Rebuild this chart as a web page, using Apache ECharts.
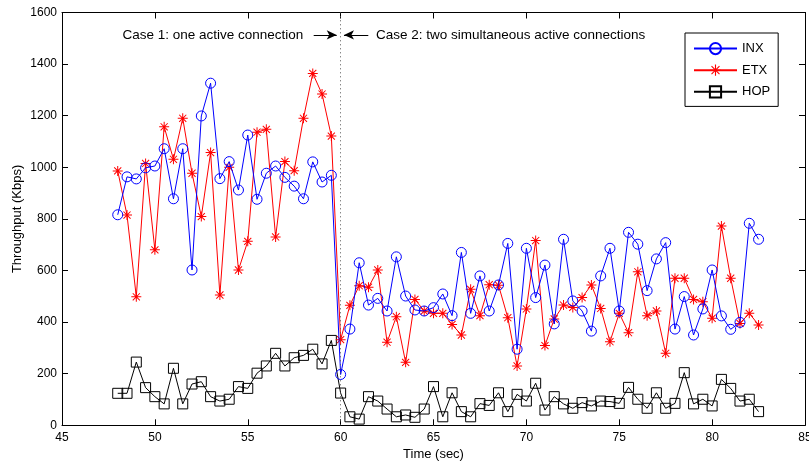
<!DOCTYPE html>
<html>
<head>
<meta charset="utf-8">
<script src="https://cdn.jsdelivr.net/npm/echarts@6/dist/echarts.min.js"></script>
<style>
html,body{margin:0;padding:0;background:#fff;}
#chart{width:809px;height:462px;}
</style>
</head>
<body>
<div id="chart"></div>
<script>
// ---- data ----
const times = [48,48.5,49,49.5,50,50.5,51,51.5,52,52.5,53,53.5,54,54.5,55,55.5,56,56.5,57,57.5,58,58.5,59,59.5,
  60,60.5,61,61.5,62,62.5,63,63.5,64,64.5,65,65.5,66,66.5,67,67.5,68,68.5,69,69.5,70,70.5,71,71.5,72,72.5,
  73,73.5,74,74.5,75,75.5,76,76.5,77,77.5,78,78.5,79,79.5,80,80.5,81,81.5,82,82.5];
const inx = [816,963,955,998,1005,1072,878,1072,602,1199,1326,956,1022,912,1125,876,977,1005,961,927,878,1021,943,969,
  197,373,630,466,492,443,653,501,447,443,456,509,425,670,434,579,443,544,705,295,686,495,621,393,721,482,
  443,365,579,686,443,748,702,522,645,708,373,499,350,451,602,424,372,399,783,721];
const etx = [986,815,498,1015,680,1157,1031,1190,977,809,1057,505,1000,602,713,1136,1147,730,1022,987,1190,1364,1284,1121,
  332,465,541,535,602,322,421,244,488,443,434,434,391,350,527,425,545,543,417,230,451,716,309,412,466,457,
  495,544,453,324,434,359,595,425,443,279,570,570,488,479,415,772,570,395,434,389];
const hop = [124,124,245,146,111,83,221,83,160,169,111,94,101,150,143,202,230,279,230,262,271,295,238,329,
  125,33,24,111,94,63,33,40,31,63,150,33,126,53,33,84,77,126,53,120,94,163,59,111,83,66,
  88,75,94,92,85,147,101,66,126,66,85,204,83,101,75,178,143,94,101,53];
const seriesNames = ['INX','ETX','HOP'];
const xTicks = {min:45, max:85, interval:5};
const yTicks = {min:0, max:1600, interval:200};
const splitTime = 60;
const case1Text = 'Case 1: one active connection';
const case2Text = 'Case 2: two simultaneous active connections';
const annotY = 1513;

const pair = arr => times.map((t,i)=>[t, arr[i]]);
const FONT = 'Liberation Sans, Arial, Helvetica, sans-serif';
const starPath = 'path://M-0.5,-5 L0.5,-5 L0.5,5 L-0.5,5 Z M-5,-0.5 L5,-0.5 L5,0.5 L-5,0.5 Z M-3.2,-3.9 L3.9,3.2 L3.2,3.9 L-3.9,-3.2 Z M3.2,-3.9 L3.9,-3.2 L-3.2,3.9 L-3.9,3.2 Z';

const axisCommon = {
  type:'value',
  axisLine:{show:true, onZero:false, lineStyle:{color:'#000', width:1}},
  axisTick:{show:true, inside:true, length:6, lineStyle:{color:'#000'}},
  splitLine:{show:false},
  axisLabel:{color:'#000', fontSize:12, fontFamily:FONT, formatter:v => String(v)}
};

const chart = echarts.init(document.getElementById('chart'), null, {renderer:'canvas'});
chart.setOption({
  animation:false,
  backgroundColor:'#fff',
  textStyle:{fontFamily:FONT},
  grid:{left:62, right:4, top:12.5, bottom:36.7, containLabel:false, outerBoundsMode:'none'},
  xAxis:[
    Object.assign({}, axisCommon, {position:'bottom', min:xTicks.min, max:xTicks.max, interval:xTicks.interval,
      axisLabel:Object.assign({}, axisCommon.axisLabel, {margin:6}),
      name:'Time (sec)', nameLocation:'middle', nameGap:23, nameMoveOverlap:false,
      nameTextStyle:{color:'#000', fontSize:13, fontFamily:FONT}}),
    Object.assign({}, axisCommon, {position:'top', min:xTicks.min, max:xTicks.max, interval:xTicks.interval,
      axisLabel:{show:false}})
  ],
  yAxis:[
    Object.assign({}, axisCommon, {position:'left', min:yTicks.min, max:yTicks.max, interval:yTicks.interval,
      axisLabel:Object.assign({}, axisCommon.axisLabel, {margin:5}),
      name:'Throughput (Kbps)', nameLocation:'middle', nameGap:38, nameRotate:90, nameMoveOverlap:false,
      nameTextStyle:{color:'#000', fontSize:13, fontFamily:FONT}}),
    Object.assign({}, axisCommon, {position:'right', min:yTicks.min, max:yTicks.max, interval:yTicks.interval,
      axisLabel:{show:false}})
  ],
  legend:{
    orient:'vertical', left:685, top:33,
    padding:[9,8,8,8], itemGap:8.5, itemWidth:43, itemHeight:14,
    borderColor:'#000', borderWidth:1, backgroundColor:'#fff', borderRadius:0,
    textStyle:{color:'#000', fontSize:13, fontFamily:FONT},
    data:seriesNames
  },
  series:[
    {
      name:seriesNames[0], type:'line', data:pair(inx), xAxisIndex:0, yAxisIndex:0,
      symbol:'circle', symbolSize:10, showAllSymbol:true,
      itemStyle:{color:'rgba(0,0,0,0)', borderColor:'#0000ff', borderWidth:1},
      lineStyle:{color:'#0000ff', width:1},
      z:4,
      markLine:{
        silent:true, symbol:['none','none'], label:{show:false},
        lineStyle:{color:'#555', type:[1,3], width:1},
        data:[{xAxis:splitTime}]
      }
    },
    {
      name:seriesNames[1], type:'line', data:pair(etx), xAxisIndex:0, yAxisIndex:0,
      symbol:starPath, symbolSize:10, showAllSymbol:true,
      itemStyle:{color:'#ff0000'},
      lineStyle:{color:'#ff0000', width:1},
      z:3,
      markLine:{
        silent:true, symbol:['none','arrow'], symbolSize:[7,10], label:{show:false},
        lineStyle:{color:'#000', type:'solid', width:1},
        itemStyle:{color:'#000'},
        data:[
          [{coord:[58.55, annotY]},{coord:[59.79, annotY]}],
          [{coord:[61.49, annotY]},{coord:[60.18, annotY]}]
        ]
      },
      markPoint:{
        silent:true, symbol:'circle', symbolSize:0,
        itemStyle:{color:'rgba(0,0,0,0)'},
        label:{show:true, color:'#000', fontSize:13.5, fontFamily:FONT, distance:0, formatter:'{b}'},
        data:[
          {name:case1Text, coord:[57.99, annotY], label:{position:'left'}},
          {name:case2Text, coord:[61.9, annotY], label:{position:'right'}}
        ]
      }
    },
    {
      name:seriesNames[2], type:'line', data:pair(hop), xAxisIndex:0, yAxisIndex:0,
      symbol:'rect', symbolSize:10, showAllSymbol:true,
      itemStyle:{color:'rgba(0,0,0,0)', borderColor:'#000', borderWidth:1},
      lineStyle:{color:'#000', width:1},
      z:2
    }
  ]
});
</script>
</body>
</html>
